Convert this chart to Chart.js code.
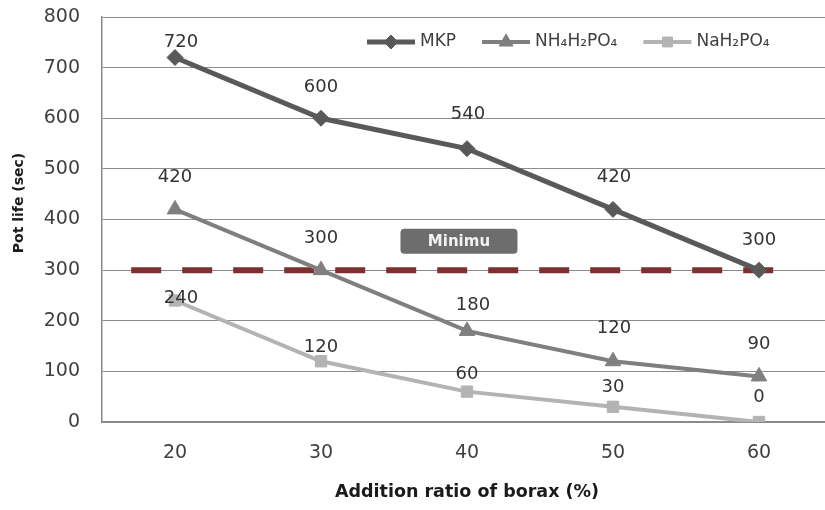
<!DOCTYPE html>
<html>
<head>
<meta charset="utf-8">
<script src="https://cdn.jsdelivr.net/npm/chart.js@4/dist/chart.umd.min.js"></script>
<style>
  html, body { margin: 0; padding: 0; background: #fff; overflow: hidden; }
  #wrap { width: 825px; height: 510px; overflow: hidden; }
  canvas { display: block; }
</style>
</head>
<body>
<div id="wrap"><canvas id="c" width="832" height="510" style="width:832px;height:510px"></canvas></div>
<script>
// Borax addition ratio (%) on the x axis
const boraxRatio = ['20', '30', '40', '50', '60'];
// Pot life (sec) for each binder
const mkp = [720, 600, 540, 420, 300];
const nh4h2po4 = [420, 300, 180, 120, 90];
const nah2po4 = [240, 120, 60, 30, 0];
// Minimum required pot life (sec)
const minimumPotLife = 300;
const minimumLabel = 'Minimu';
const seriesNames = ['MKP', 'NH\u2084H\u2082PO\u2084', 'NaH\u2082PO\u2084'];
const yTicks = [0, 100, 200, 300, 400, 500, 600, 700, 800];

const FONT = '"DejaVu Sans", Verdana, sans-serif';
const TEXT = '#404040';

// value-label placement per series (pixel nudges from each point)
const labelNudge = [
  { dx: [6, 0, 1, 1, 0], dy: [-15, -31, -34, -32, -30] },
  { dx: [0, 0, 6, 1, 0], dy: [-32, -32, -26, -33, -32] },
  { dx: [6, 0, 0, 0, 0], dy: [-2, -14, -17, -19, -25] }
];

const minimumLine = {
  id: 'minimumLine',
  beforeDatasetsDraw(chart) {
    const { ctx, scales: { x, y } } = chart;
    const yy = y.getPixelForValue(minimumPotLife);
    const x0 = x.getPixelForValue(-0.3);
    const x1 = x.getPixelForValue(4.18);
    ctx.save();
    ctx.strokeStyle = '#7e3030';
    ctx.lineWidth = 6;
    ctx.setLineDash([30, 21]);
    ctx.beginPath();
    ctx.moveTo(x0, yy);
    ctx.lineTo(x1, yy);
    ctx.stroke();
    ctx.setLineDash([]);
    // caption box
    const cx = x.getPixelForValue(1.945);
    const cy = y.getPixelForValue(357);
    const w = 117, h = 25, r = 4;
    ctx.fillStyle = '#6d6d6d';
    ctx.beginPath();
    ctx.roundRect(cx - w / 2, cy - h / 2, w, h, r);
    ctx.fill();
    ctx.fillStyle = '#f2f2f2';
    ctx.font = 'bold 15px ' + FONT;
    ctx.textAlign = 'center';
    ctx.textBaseline = 'middle';
    ctx.fillText(minimumLabel, cx, cy + 1);
    ctx.restore();
  }
};

const valueLabels = {
  id: 'valueLabels',
  afterDatasetsDraw(chart) {
    const { ctx } = chart;
    ctx.save();
    ctx.font = '18px ' + FONT;
    ctx.fillStyle = '#333333';
    ctx.textAlign = 'center';
    ctx.textBaseline = 'middle';
    chart.data.datasets.forEach((ds, i) => {
      const meta = chart.getDatasetMeta(i);
      meta.data.forEach((pt, j) => {
        const n = labelNudge[i];
        ctx.fillText(String(ds.data[j]), pt.x + n.dx[j], pt.y + n.dy[j]);
      });
    });
    ctx.restore();
  }
};

const axisTitles = {
  id: 'axisTitles',
  afterDraw(chart) {
    const { ctx, scales: { x } } = chart;
    ctx.save();
    ctx.fillStyle = '#1a1a1a';
    ctx.textAlign = 'center';
    ctx.textBaseline = 'middle';
    ctx.font = 'bold 17.5px ' + FONT;
    ctx.fillText('Addition ratio of borax (%)', x.getPixelForValue(2), 492);
    ctx.font = 'bold 14px ' + FONT;
    ctx.translate(19, 203);
    ctx.rotate(-Math.PI / 2);
    ctx.fillText('Pot life (sec)', 0, 0);
    ctx.restore();
  }
};

const insideLegend = {
  id: 'insideLegend',
  afterDraw(chart) {
    const { ctx } = chart;
    ctx.save();
    ctx.font = '17px ' + FONT;
    ctx.textBaseline = 'middle';
    let xPos = 367;
    const yPos = 42;
    chart.data.datasets.forEach((ds) => {
      ctx.strokeStyle = ds.borderColor;
      ctx.fillStyle = ds.borderColor;
      ctx.lineWidth = ds.borderWidth;
      ctx.beginPath();
      ctx.moveTo(xPos, yPos);
      ctx.lineTo(xPos + 48, yPos);
      ctx.stroke();
      ctx.lineWidth = 1;
      Chart.helpers.drawPoint(ctx, {
        pointStyle: ds.pointStyle,
        radius: ds.pointRadius - 1,
        rotation: 0,
        borderWidth: 1
      }, xPos + 24, yPos);
      ctx.fillStyle = TEXT;
      ctx.fillText(ds.label, xPos + 53, yPos);
      xPos += 53 + ctx.measureText(ds.label).width + 26;
    });
    ctx.restore();
  }
};

function series(label, data, color, width, style, radius) {
  return {
    label, data,
    borderColor: color, backgroundColor: color,
    pointBackgroundColor: color, pointBorderColor: color,
    borderWidth: width, pointStyle: style, pointRadius: radius,
    pointBorderWidth: 1, tension: 0, fill: false
  };
}

new Chart(document.getElementById('c'), {
  type: 'line',
  data: {
    labels: boraxRatio,
    datasets: [
      series(seriesNames[0], mkp, '#595959', 5, 'rectRot', 8),
      series(seriesNames[1], nh4h2po4, '#7f7f7f', 4, 'triangle', 9),
      series(seriesNames[2], nah2po4, '#b3b3b3', 4, 'rect', 8)
    ]
  },
  options: {
    responsive: false,
    maintainAspectRatio: false,
    animation: false,
    devicePixelRatio: 1,
    layout: { autoPadding: false, padding: { top: 17, left: 0, right: 0, bottom: 0 } },
    plugins: { legend: { display: false }, tooltip: { enabled: false } },
    scales: {
      x: {
        type: 'category',
        offset: true,
        grid: { display: false, drawTicks: false },
        border: { display: true, color: '#8a8a8a', width: 1.5 },
        ticks: { color: TEXT, font: { family: FONT, size: 19 }, padding: 20 },
        afterFit(s) { s.height = 88; s.paddingLeft = 0; s.paddingRight = 0; }
      },
      y: {
        min: 0, max: 800,
        afterBuildTicks(s) { s.ticks = yTicks.map(v => ({ value: v })); },
        grid: { color: '#8c8c8c', lineWidth: 1, drawTicks: false },
        border: { display: true, color: '#8a8a8a', width: 1.5 },
        ticks: { color: TEXT, font: { family: FONT, size: 19 }, padding: 22 },
        afterFit(s) { s.width = 102; s.paddingTop = 0; s.paddingBottom = 0; }
      }
    }
  },
  plugins: [minimumLine, valueLabels, axisTitles, insideLegend]
});
</script>
</body>
</html>
